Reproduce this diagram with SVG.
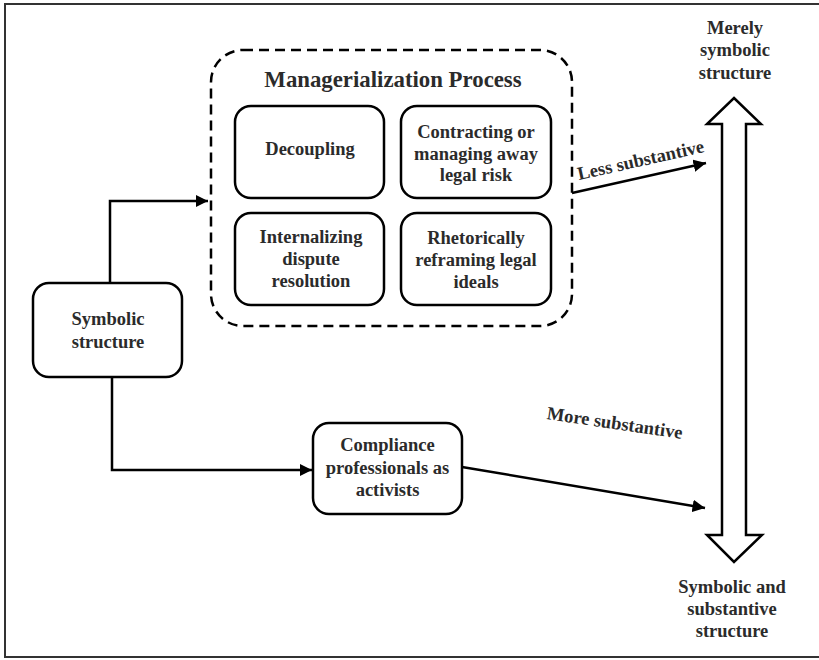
<svg xmlns="http://www.w3.org/2000/svg" width="819" height="660" viewBox="0 0 819 660">
<defs>
<style>
.t{font-family:"Liberation Serif","Times New Roman",serif;font-weight:bold;font-size:18.5px;fill:#2b2b2b;text-anchor:middle}
.title{font-size:22.8px}
.box{fill:#fff;stroke:#000;stroke-width:2.5}
.conn{fill:none;stroke:#000;stroke-width:2.5}
</style>
<marker id="ah" viewBox="0 0 10 10" refX="10" refY="5" markerWidth="5" markerHeight="5" markerUnits="strokeWidth" orient="auto">
<path d="M0,0 L10,5 L0,10 Z" fill="#000"/>
</marker>
</defs>
<rect width="819" height="660" fill="#fff"/>
<path d="M819 4 H5 V657 H819" fill="none" stroke="#333" stroke-width="2"/>

<g id="managerialization">
<rect x="211" y="50" width="361" height="276" rx="32" fill="none" stroke="#000" stroke-width="2.5" stroke-dasharray="10 6"/>
<text class="t title" x="393" y="87">Managerialization Process</text>
</g>
<g id="decoupling">
<rect class="box" x="235" y="106" width="149" height="92" rx="16"/>
<text class="t" x="310" y="155">Decoupling</text>
</g>
<g id="contracting">
<rect class="box" x="401" y="106" width="150" height="92" rx="16"/>
<text class="t" x="476" y="138">Contracting or</text>
<text class="t" x="476" y="160">managing away</text>
<text class="t" x="476" y="181">legal risk</text>
</g>
<g id="internalizing">
<rect class="box" x="235" y="213" width="149" height="92" rx="16"/>
<text class="t" x="311" y="243">Internalizing</text>
<text class="t" x="311" y="265">dispute</text>
<text class="t" x="311" y="287">resolution</text>
</g>
<g id="rhetorically">
<rect class="box" x="401" y="213" width="150" height="92" rx="16"/>
<text class="t" x="476" y="244">Rhetorically</text>
<text class="t" x="476" y="266">reframing legal</text>
<text class="t" x="476" y="288">ideals</text>
</g>
<g id="symbolic">
<rect class="box" x="33" y="283" width="149" height="94" rx="16"/>
<text class="t" x="108" y="325">Symbolic</text>
<text class="t" x="108" y="348">structure</text>
</g>
<g id="compliance">
<rect class="box" x="313" y="423" width="149" height="91" rx="16"/>
<text class="t" x="387.5" y="451">Compliance</text>
<text class="t" x="387.5" y="474">professionals as</text>
<text class="t" x="387.5" y="496">activists</text>
</g>
<g id="spectrum">
<polygon points="734,98 761,124 746,124 746,535 762,535 734,562 707,535 722,535 722,124 707,124" fill="#fff" stroke="#000" stroke-width="2.5" stroke-linejoin="miter"/>
<text class="t" x="735" y="34">Merely</text>
<text class="t" x="735" y="56">symbolic</text>
<text class="t" x="735" y="79">structure</text>
<text class="t" x="732" y="593">Symbolic and</text>
<text class="t" x="732" y="615">substantive</text>
<text class="t" x="732" y="637">structure</text>
</g>
<g id="connectors">
<path class="conn" d="M110 283 V201 H208" marker-end="url(#ah)"/>
<path class="conn" d="M112 377 V470 H312" marker-end="url(#ah)"/>
<path class="conn" d="M462 467 L705 508" marker-end="url(#ah)"/>
<path class="conn" d="M572 193 L706 163" marker-end="url(#ah)"/>
<text class="t" transform="translate(642,166) rotate(-12.6)" x="0" y="0">Less substantive</text>
<text class="t" transform="translate(614,429) rotate(8.3)" x="0" y="0">More substantive</text>
</g>
</svg>
